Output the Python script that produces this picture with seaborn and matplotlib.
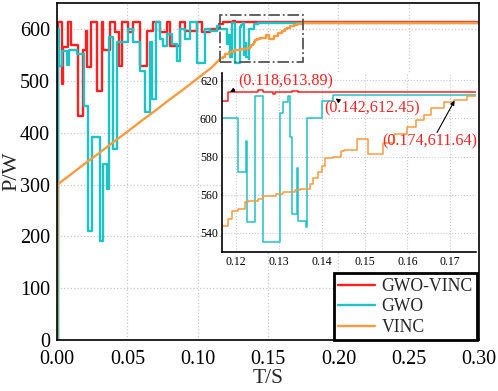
import numpy as np
import pandas as pd
import matplotlib
matplotlib.use('Agg')
import matplotlib.pyplot as plt
import seaborn as sns
from matplotlib.patches import Rectangle

# GWO-VINC power (step changes), time in s, power in W
gwo_vinc_t = [0, 0.0005, 0.0035, 0.0043, 0.0078, 0.0099, 0.0150, 0.0184, 0.0206, 0.0213,
              0.0241, 0.0284, 0.0319, 0.0326, 0.0376, 0.0411, 0.0440, 0.0461, 0.0504, 0.0539,
              0.0589, 0.0638, 0.0681, 0.0730, 0.0780, 0.0801, 0.0872, 0.0908, 0.0993, 0.1028,
              0.1085, 0.1150, 0.1180, 0.1250, 0.1262, 0.1285, 0.1290, 0.1331, 0.1345, 0.30]
gwo_vinc_p = [0, 613, 494, 565, 613, 569, 433, 560, 596, 527,
              613, 481, 613, 560, 613, 594, 529, 613, 594, 613,
              529, 596, 613, 594, 613, 567, 613, 596, 613, 594,
              600, 609, 613.89, 614.8, 613.89, 612.8, 613.89, 614.5, 613.89, 613.89]

# GWO power (step changes)
gwo_t = [0, 0.0005, 0.0014, 0.0035, 0.0071, 0.0085, 0.0142, 0.0191, 0.0220, 0.0248,
         0.0305, 0.0326, 0.0355, 0.0369, 0.0397, 0.0426, 0.0504, 0.0539, 0.0589, 0.0624,
         0.0660, 0.0674, 0.0702, 0.0730, 0.0752, 0.0780, 0.0816, 0.0851, 0.0872, 0.0908,
         0.0943, 0.0993, 0.1050, 0.1085, 0.1135, 0.1160, 0.1205, 0.1223, 0.1226, 0.1244,
         0.1263, 0.1303, 0.1310, 0.1322, 0.1326, 0.1331, 0.1343, 0.1345, 0.1362, 0.1366,
         0.1401, 0.1427, 0.30]
gwo_p = [0, 600, 529, 558, 530, 560, 551, 452, 210, 392,
         192, 340, 292, 584, 369, 575, 600, 575, 520, 440,
         575, 465, 613, 581, 567, 590, 571, 538, 600, 581,
         613, 535, 600, 596, 606, 600, 571.7, 588, 545.7, 612,
         535.3, 603, 608.6, 612, 590, 550, 574, 546, 543, 600,
         609, 612.45, 612.45]

# VINC power: ramp part, then stair part
vinc_ramp_t = [0, 0.0003, 0.01, 0.02, 0.03, 0.04, 0.05, 0.06, 0.07, 0.08, 0.09, 0.10, 0.11, 0.1163]
vinc_ramp_p = [0, 300, 320, 341, 361, 382, 402, 423, 443, 464, 484, 505, 526, 543.6]
vinc_step_t = [0.1163, 0.1181, 0.1191, 0.1205, 0.1221, 0.1228, 0.1252, 0.1263, 0.1294, 0.1310,
               0.1338, 0.1350, 0.1373, 0.1380, 0.1390, 0.1401, 0.1408, 0.1425, 0.1444, 0.1451,
               0.1483, 0.1509, 0.1542, 0.1568, 0.1600, 0.1619, 0.1638, 0.1654, 0.1685, 0.1708,
               0.1740, 0.30]
vinc_step_p = [543.6, 547, 551.4, 552.5, 556, 556.6, 557.5, 559.3, 560.3, 561.3,
               562.3, 563, 565.5, 569, 571.7, 575, 579.5, 580, 582.7, 583.6,
               589.4, 581.6, 587.3, 592, 595.6, 599.2, 601.8, 605.3, 608.6, 609.8,
               611.64, 611.64]

labels = ['GWO-VINC', 'GWO', 'VINC']
colors = ['#ff1f1f', '#1cc4c8', '#ff9a3c']

sns.set_theme(style='white')
plt.rcParams['font.family'] = ['Liberation Serif', 'DejaVu Serif']

fig = plt.figure(figsize=(4.98, 3.91), dpi=100)
ax = fig.add_axes([0.1145, 0.13, 0.8475, 0.862])


def draw(a, lw):
    sns.lineplot(x=gwo_vinc_t, y=gwo_vinc_p, ax=a, color=colors[0], lw=lw,
                 drawstyle='steps-post', estimator=None, label=labels[0], legend=False)
    sns.lineplot(x=gwo_t, y=gwo_p, ax=a, color=colors[1], lw=lw,
                 drawstyle='steps-post', estimator=None, label=labels[1], legend=False)
    sns.lineplot(x=vinc_ramp_t, y=vinc_ramp_p, ax=a, color=colors[2], lw=lw,
                 estimator=None, label=labels[2], legend=False)
    sns.lineplot(x=vinc_step_t, y=vinc_step_p, ax=a, color=colors[2], lw=lw,
                 drawstyle='steps-post', estimator=None, legend=False)


draw(ax, 1.7)
ax.set_xlim(0, 0.30)
ax.set_ylim(0, 650)
ax.set_xticks(np.arange(0, 0.31, 0.05))
ax.set_xticklabels([f'{v:.2f}' for v in np.arange(0, 0.31, 0.05)])
ax.set_yticks(range(0, 601, 100))
ax.tick_params(direction='in', length=5, width=1.2, labelsize=14.5, colors='black')
ax.tick_params(axis='x', pad=7)
ax.tick_params(axis='y', pad=5)
ax.grid(True, ls=':', color='#c8c8c8', lw=0.9)
for s in ax.spines.values():
    s.set_color('black')
    s.set_linewidth(1.2)
ax.set_xlabel('T/S', fontsize=15.5, labelpad=0)
ax.set_ylabel('P/W', fontsize=16, labelpad=-1)

# zoom region box
ax.add_patch(Rectangle((0.1156, 536), 0.0594, 91, fill=False, ls='-.',
                       ec='#555555', lw=1.3, zorder=5))

handles = ax.get_lines()[:3]
leg = ax.legend(handles, labels, loc='lower right', bbox_to_anchor=(0.995, 0.0),
                borderaxespad=0, fontsize=12.7, handlelength=2.1, labelspacing=0.2,
                handletextpad=0.35, fancybox=False, framealpha=1, edgecolor='black',
                borderpad=0.25)
leg.get_frame().set_linewidth(2)

# inset
axi = fig.add_axes([0.4458, 0.356, 0.510, 0.458])
draw(axi, 1.1)
axi.set_xlim(0.1167, 0.176)
axi.set_ylim(530, 624)
axi.set_xticks([0.12, 0.13, 0.14, 0.15, 0.16, 0.17])
axi.set_xticklabels(['0.12', '0.13', '0.14', '0.15', '0.16', '0.17'])
axi.set_yticks([540, 560, 580, 600, 620])
axi.tick_params(direction='in', length=4, width=1, labelsize=8.5, pad=3, colors='black')
axi.grid(True, ls=':', color='#c8c8c8', lw=0.8)
axi.spines['top'].set_visible(False)
axi.spines['right'].set_visible(False)
for s in ['left', 'bottom']:
    axi.spines[s].set_color('black')
    axi.spines[s].set_linewidth(1.2)

notes = [('(0.118,613.89)', (0.1205, 619.5), (0.1202, 615.8), (0.1180, 613.2)),
         ('(0.142,612.45)', (0.1406, 605.5), (0.1444, 608.6), (0.1427, 611.3)),
         ('(0.174,611.64)', (0.1542, 587.8), (0.1666, 591.4), (0.1713, 610.6))]
for txt, pos, start, tip in notes:
    axi.text(pos[0], pos[1], txt, color='#ff2020', fontsize=11.6, ha='left', va='center')
    axi.annotate('', xy=tip, xytext=start,
                 arrowprops=dict(arrowstyle='-|>', color='black', lw=0.8, mutation_scale=6))

fig.savefig('out.png', dpi=100)
